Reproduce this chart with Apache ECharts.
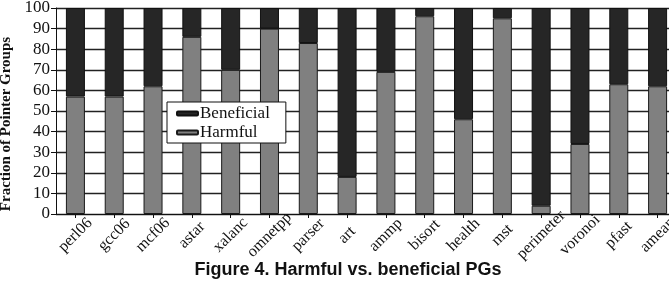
<!DOCTYPE html>
<html>
<head>
<meta charset="utf-8">
<script src="https://cdn.jsdelivr.net/npm/echarts@6/dist/echarts.min.js"></script>
<style>
  html, body { margin: 0; padding: 0; background: #fff; }
  #chart { width: 669px; height: 282px; }
</style>
</head>
<body>
<div id="chart"></div>
<script>
// benchmarks on the x axis
const categories = ["perl06", "gcc06", "mcf06", "astar", "xalanc", "omnetpp", "parser", "art",
  "ammp", "bisort", "health", "mst", "perimeter", "voronoi", "pfast", "amean"];

// percent of pointer groups that are harmful
const harmful = [57, 57, 62, 86, 70, 90, 83, 18, 69, 96, 46, 95, 4, 34, 63, 62];
// the rest is beneficial
const beneficial = [43, 43, 38, 14, 30, 10, 17, 82, 31, 4, 54, 5, 96, 66, 37, 38];

const yTicks = [0, 10, 20, 30, 40, 50, 60, 70, 80, 90, 100];

const chart = echarts.init(document.getElementById("chart"));

const serif = "Liberation Serif";

chart.setOption({
  animation: false,
  backgroundColor: "#fff",
  title: {
    text: "Figure 4. Harmful vs. beneficial PGs",
    left: 343,
    textAlign: "center",
    top: 256,
    textStyle: { fontFamily: "Liberation Sans", fontWeight: "bold", fontSize: 18, color: "#111" }
  },
  legend: {
    orient: "vertical",
    left: 167,
    top: 102,
    width: 117,
    padding: [3, 16, 2, 9],
    itemGap: 2,
    itemWidth: 21,
    itemHeight: 4,
    backgroundColor: "#fff",
    borderColor: "#111",
    borderWidth: 1,
    textStyle: { fontFamily: serif, fontSize: 17, color: "#111", padding: [0, 0, 0, -3] },
    data: [
      { name: "Beneficial", icon: "roundRect" },
      { name: "Harmful", icon: "roundRect" }
    ]
  },
  grid: { left: 56, top: 8, width: 621, height: 206, outerBoundsMode: "none", containLabel: false },
  xAxis: {
    type: "category",
    data: categories,
    axisLine: { lineStyle: { color: "#111", width: 1 } },
    axisTick: { show: true, alignWithLabel: true, length: 4, lineStyle: { color: "#111" } },
    axisLabel: {
      rotate: 45, interval: 0, margin: 21, align: "center", verticalAlign: "middle",
      fontFamily: serif, fontSize: 16, color: "#111"
    }
  },
  yAxis: {
    type: "value",
    min: yTicks[0],
    max: yTicks[yTicks.length - 1],
    interval: 10,
    name: "Fraction of Pointer Groups",
    nameLocation: "middle",
    nameGap: 40,
    nameTextStyle: {
      fontFamily: serif, fontWeight: "bold", fontSize: 15, color: "#111",
      padding: [0, 26, 0, 0]
    },
    axisLine: { show: true, lineStyle: { color: "#111" } },
    axisTick: { show: true, length: 5, lineStyle: { color: "#111" } },
    axisLabel: { fontFamily: serif, fontSize: 17, color: "#111", margin: 6 },
    splitLine: { show: true, lineStyle: { color: "#222", width: 1.3 } }
  },
  series: [
    {
      name: "Harmful",
      type: "bar",
      stack: "pg",
      barWidth: 19,
      data: harmful,
      itemStyle: { color: "#808080", borderColor: "#1a1a1a", borderWidth: 1 }
    },
    {
      name: "Beneficial",
      type: "bar",
      stack: "pg",
      barWidth: 19,
      data: beneficial,
      itemStyle: { color: "#262626", borderColor: "#111", borderWidth: 1 }
    }
  ]
});
</script>
</body>
</html>
